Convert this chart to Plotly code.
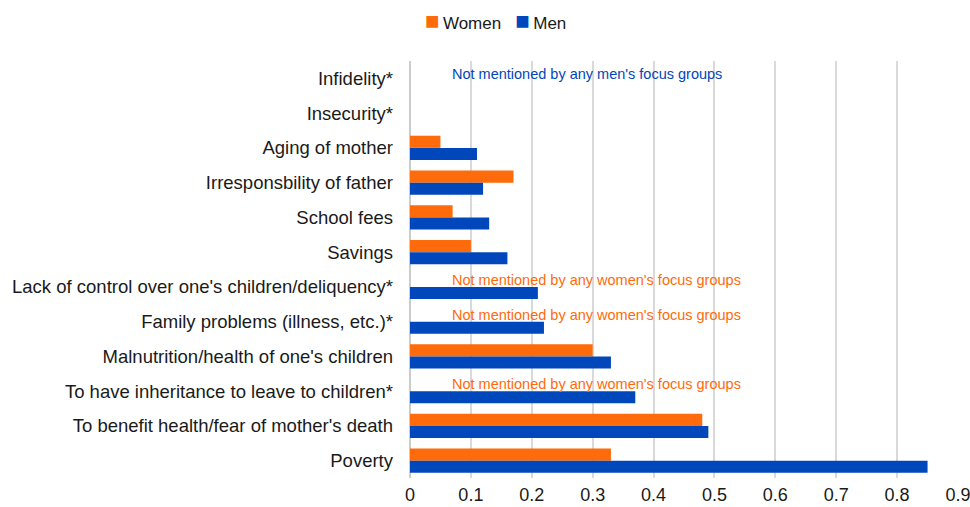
import plotly.graph_objects as go

categories = [
    "Infidelity*",
    "Insecurity*",
    "Aging of mother",
    "Irresponsbility of father",
    "School fees",
    "Savings",
    "Lack of control over one's children/deliquency*",
    "Family problems (illness, etc.)*",
    "Malnutrition/health of one's children",
    "To have inheritance to leave to children*",
    "To benefit health/fear of mother's death",
    "Poverty",
]
women = [None, None, 0.05, 0.17, 0.07, 0.10, None, None, 0.30, None, 0.48, 0.33]
men = [None, None, 0.11, 0.12, 0.13, 0.16, 0.21, 0.22, 0.33, 0.37, 0.49, 0.85]

notes_men = ["Infidelity*"]
notes_women = [
    "Lack of control over one's children/deliquency*",
    "Family problems (illness, etc.)*",
    "To have inheritance to leave to children*",
]
x_ticks = [0, 0.1, 0.2, 0.3, 0.4, 0.5, 0.6, 0.7, 0.8, 0.9]
tick_text = ["0", "0.1", "0.2", "0.3", "0.4", "0.5", "0.6", "0.7", "0.8", "0.9"]

ORANGE = "#FF6A0A"
BLUE = "#0047BB"
TEXT = "#1a1a1a"
FONT = "Liberation Sans, Arial, sans-serif"

fig = go.Figure()
fig.add_trace(go.Bar(y=categories, x=women, name="Women", orientation="h",
                     showlegend=False,
                     marker=dict(color=ORANGE, line=dict(width=0))))
fig.add_trace(go.Bar(y=categories, x=men, name="Men", orientation="h",
                     showlegend=False,
                     marker=dict(color=BLUE, line=dict(width=0))))

for c in notes_men:
    fig.add_annotation(x=0.066, y=c, text="Not mentioned by any men's focus groups",
                       xanchor="left", yanchor="middle", yshift=4, showarrow=False,
                       font=dict(color=BLUE, size=14.5, family=FONT))
for c in notes_women:
    fig.add_annotation(x=0.066, y=c, text="Not mentioned by any women's focus groups",
                       xanchor="left", yanchor="middle", yshift=7, showarrow=False,
                       font=dict(color=ORANGE, size=14.5, family=FONT))

# legend (built as text so the compact Excel-style layout can be matched)
legend_text = (f"<span style='color:{ORANGE};font-size:24px'>■</span>&#8201;Women&nbsp;&nbsp;&nbsp;"
               f"<span style='color:{BLUE};font-size:24px'>■</span>&#8201;Men")
fig.add_annotation(x=0.0237, y=1.096, xref="paper", yref="paper",
                   text=legend_text, showarrow=False, xanchor="left",
                   yanchor="middle", font=dict(size=17, color=TEXT, family=FONT))

fig.update_layout(
    width=970, height=507,
    margin=dict(l=410, r=12, t=61, b=29, autoexpand=False),
    paper_bgcolor="white", plot_bgcolor="white",
    barmode="group", bargap=0.3, bargroupgap=0,
    font=dict(family=FONT, size=18, color=TEXT),
    showlegend=False,
    xaxis=dict(range=[0, 0.9], tickvals=x_ticks, ticktext=tick_text,
               showgrid=True, gridcolor="#D9D9D9", gridwidth=1.5,
               zeroline=True, zerolinecolor="#CCCCCC", zerolinewidth=2,
               showline=False, ticks="", ticklabelstandoff=4,
               ticklabeloverflow="allow", automargin=False,
               tickfont=dict(size=18, color=TEXT)),
    yaxis=dict(autorange="reversed", showgrid=False, showline=False, ticks="",
               ticklabelstandoff=16, automargin=False,
               tickfont=dict(size=18.5, color=TEXT)),
)

fig.write_html(
    "out.html",
    config={"displayModeBar": False},
    post_script="document.body.style.margin='0';document.body.style.overflow='hidden';",
)
